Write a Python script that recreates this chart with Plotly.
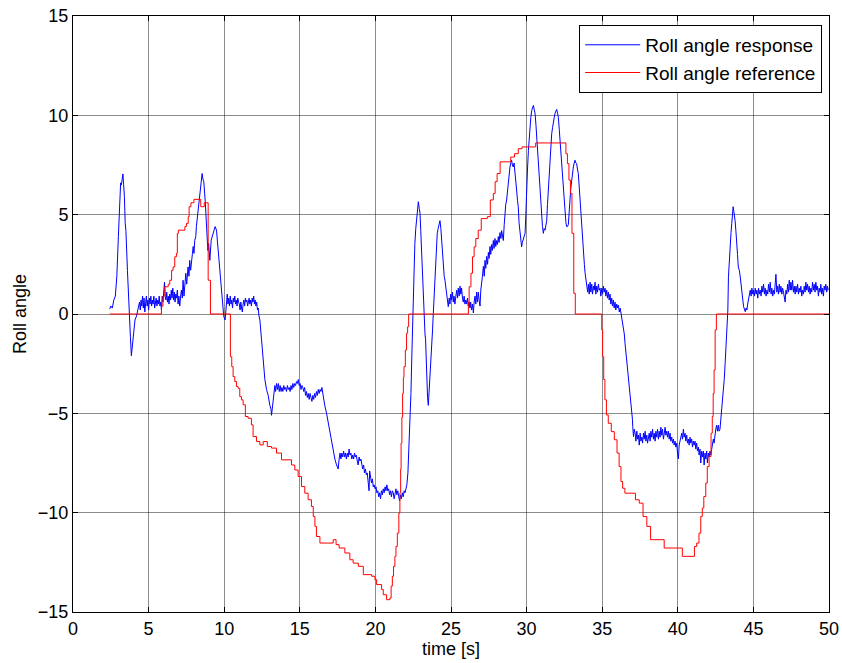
import plotly.graph_objects as go

# ---------------- data ----------------
# Roll angle response (blue): (time [s], angle)
response_points = [
    (2.43, 0.25), (2.5, 0.4), (2.6, 0.3), (2.7, 0.7), (2.8, 0.9), (2.9, 1.9), (3.0, 3.9), (3.1, 5.8),
    (3.15, 6.6), (3.2, 6.5), (3.25, 7.0), (3.3, 7.05), (3.35, 6.5), (3.4, 5.9), (3.45, 4.6), (3.5, 4.2),
    (3.6, 2.2), (3.7, 0.1), (3.75, -0.8), (3.8, -1.2), (3.86, -2.1), (3.92, -1.6), (3.97, -1.4),
    (4.03, -0.6), (4.1, -0.3), (4.2, -0.1),
    (4.3, 0.3), (4.4, 0.6), (4.45, 0.2), (4.5, 0.7), (4.55, 0.4), (4.6, 0.9), (4.65, 0.3), (4.7, 0.8),
    (4.75, 0.1), (4.8, 0.6), (4.85, 0.9), (4.9, 0.4), (4.95, 0.7), (5.0, 0.2), (5.05, 0.8), (5.1, 0.5),
    (5.15, 0.9), (5.2, 0.4), (5.25, 0.7), (5.3, 0.5), (5.35, 0.9), (5.4, 0.3), (5.45, 0.6), (5.5, 0.8),
    (5.55, 0.4), (5.6, 0.7), (5.65, 0.5), (5.7, 0.9), (5.75, 0.4), (5.8, 0.6), (5.85, 0.2), (5.9, 0.9),
    (5.95, 0.6), (6.0, 1.0), (6.05, 1.6), (6.1, 0.9), (6.15, 0.7), (6.2, 1.1), (6.25, 0.6), (6.3, 0.9),
    (6.35, 0.5), (6.4, 1.0), (6.45, 0.7), (6.5, 1.2), (6.55, 0.8), (6.6, 1.3), (6.65, 0.7), (6.7, 1.1),
    (6.75, 0.6), (6.8, 1.0), (6.85, 0.8), (6.9, 1.2), (6.95, 0.5), (7.0, 0.9), (7.06, 0.4),
    (7.12, 0.9), (7.17, 1.2), (7.23, 0.8), (7.28, 1.7), (7.34, 0.9), (7.4, 1.6), (7.46, 2.05),
    (7.52, 1.5), (7.61, 2.37), (7.67, 1.9), (7.72, 2.7), (7.78, 2.2), (7.84, 2.9), (7.9, 3.05),
    (7.95, 3.4), (8.0, 3.05), (8.05, 3.7), (8.12, 3.9), (8.16, 4.4), (8.25, 5.07), (8.34, 5.74),
    (8.42, 6.07), (8.5, 6.9), (8.54, 7.07), (8.59, 6.8), (8.65, 6.66), (8.74, 5.74), (8.83, 4.06),
    (8.92, 3.2), (8.97, 3.55), (9.05, 2.7), (9.14, 3.72), (9.22, 3.9), (9.31, 4.22), (9.4, 4.4),
    (9.49, 4.22), (9.58, 3.38), (9.66, 2.7), (9.75, 2.05), (9.82, 1.2), (9.9, 0.7), (9.97, -0.13),
    (10.06, -0.3),
    (10.15, 0.6), (10.2, 1.0), (10.25, 0.5), (10.3, 0.8), (10.35, 0.4), (10.4, 0.9), (10.45, 0.5),
    (10.5, 0.7), (10.55, 0.3), (10.6, 0.8), (10.65, 0.6), (10.7, 0.9), (10.75, 0.5), (10.8, 0.7),
    (10.85, 0.4), (10.9, 0.8), (10.95, 0.6), (11.0, 0.5), (11.05, 0.2), (11.1, 0.6), (11.15, 0.3),
    (11.2, 0.1), (11.25, 0.5), (11.3, 0.7), (11.35, 0.4), (11.4, 0.8), (11.45, 0.6), (11.5, 0.7),
    (11.55, 0.4), (11.6, 0.6), (11.65, 0.8), (11.7, 0.5), (11.75, 0.7), (11.8, 0.4), (11.85, 0.8),
    (11.9, 0.6), (11.95, 0.9), (12.0, 0.5), (12.05, 0.7), (12.1, 0.4), (12.15, 0.6), (12.2, 0.2),
    (12.25, 0.3), (12.3, -0.1), (12.36, -0.3),
    (12.47, -1.3), (12.58, -2.5), (12.69, -3.3), (12.8, -3.8), (12.91, -4.1), (13.02, -4.6),
    (13.1, -4.8), (13.13, -5.1), (13.2, -4.6),
    (13.24, -4.4), (13.3, -3.9), (13.35, -3.6), (13.4, -3.9), (13.46, -3.5), (13.52, -3.8),
    (13.58, -3.5), (13.64, -3.9), (13.7, -3.6), (13.76, -3.9), (13.82, -3.7), (13.88, -3.9),
    (13.94, -3.6), (14.0, -3.8), (14.06, -3.7), (14.12, -3.9), (14.18, -3.6), (14.24, -3.8),
    (14.3, -3.7), (14.36, -3.9), (14.42, -3.6), (14.48, -3.8), (14.54, -3.5), (14.6, -3.7),
    (14.66, -3.5), (14.72, -3.6), (14.78, -3.4), (14.84, -3.5), (14.9, -3.3), (14.96, -3.6),
    (15.02, -3.5), (15.08, -3.8), (15.14, -3.6), (15.2, -3.7), (15.26, -3.9), (15.32, -3.7),
    (15.38, -4.1), (15.44, -3.9), (15.5, -4.2), (15.56, -4.0), (15.62, -4.3), (15.68, -4.0),
    (15.74, -4.2), (15.8, -4.4), (15.86, -4.1), (15.92, -4.3), (15.98, -4.0), (16.04, -4.2),
    (16.1, -3.9), (16.16, -4.1), (16.22, -3.8), (16.28, -4.0), (16.34, -3.8), (16.4, -3.9),
    (16.46, -3.7), (16.52, -4.0), (16.58, -4.3),
    (16.65, -4.6), (16.77, -5.0), (16.88, -5.5), (16.99, -5.8), (17.1, -6.3), (17.21, -6.9),
    (17.32, -7.3), (17.43, -7.6), (17.54, -7.8),
    (17.6, -7.3), (17.66, -7.0), (17.72, -7.3), (17.78, -7.0), (17.84, -7.2), (17.9, -6.9),
    (17.96, -7.2), (18.02, -7.0), (18.08, -7.3), (18.14, -7.0), (18.2, -7.2), (18.26, -6.8),
    (18.32, -7.1), (18.38, -7.0), (18.44, -7.3), (18.5, -7.1), (18.56, -7.3), (18.62, -7.0),
    (18.68, -7.2), (18.74, -7.1), (18.8, -7.4), (18.86, -7.6), (18.92, -7.2), (18.98, -7.4),
    (19.04, -7.3), (19.1, -7.6), (19.16, -7.8), (19.22, -7.6), (19.28, -8.0), (19.34, -7.8),
    (19.4, -8.1), (19.46, -8.0), (19.52, -8.4), (19.58, -8.9), (19.62, -7.9), (19.68, -8.2),
    (19.74, -8.5), (19.8, -8.3), (19.86, -8.7), (19.92, -8.6), (19.98, -8.8), (20.04, -8.7),
    (20.1, -9.0), (20.16, -8.9), (20.22, -9.2), (20.28, -9.0), (20.34, -9.3), (20.4, -8.9),
    (20.46, -9.1), (20.52, -8.8), (20.58, -9.0), (20.64, -8.7), (20.7, -8.9), (20.76, -8.6),
    (20.82, -8.9), (20.88, -8.8), (20.94, -9.1), (21.0, -8.9), (21.06, -9.2), (21.12, -8.9),
    (21.18, -9.0), (21.24, -9.3), (21.3, -9.0), (21.36, -8.8), (21.42, -9.1), (21.48, -8.9),
    (21.54, -9.2), (21.6, -9.4), (21.66, -9.1), (21.72, -9.3), (21.78, -9.0), (21.84, -9.2),
    (21.9, -8.9), (21.96, -9.0), (22.02, -8.8), (22.08, -8.6),
    (22.15, -8.0), (22.22, -6.8), (22.28, -6.0), (22.35, -4.0), (22.42, -1.8), (22.5, 0.7),
    (22.55, 2.0), (22.61, 3.55), (22.67, 4.3), (22.73, 4.9), (22.8, 5.4), (22.84, 5.65),
    (22.9, 5.3), (22.95, 5.07), (23.0, 4.2), (23.06, 3.05), (23.12, 1.8), (23.17, 0.7),
    (23.22, -0.5), (23.28, -1.0), (23.32, -1.3), (23.39, -3.65), (23.45, -4.2), (23.5, -4.6),
    (23.55, -4.0), (23.61, -3.3), (23.66, -2.6), (23.72, -1.8), (23.78, -0.8), (23.83, 0.03),
    (23.87, 0.7), (23.93, 1.8), (24.0, 3.05), (24.09, 4.06), (24.15, 4.3), (24.22, 4.5),
    (24.27, 4.7), (24.33, 4.3), (24.38, 3.7), (24.44, 2.8), (24.49, 2.05), (24.55, 1.9),
    (24.6, 1.7), (24.66, 1.3), (24.71, 1.04), (24.77, 0.6), (24.82, 0.37),
    (24.88, 0.8), (24.93, 0.5), (24.98, 1.0), (25.04, 0.7), (25.1, 1.1), (25.15, 0.6), (25.2, 0.9),
    (25.26, 0.5), (25.32, 0.9), (25.38, 1.2), (25.43, 0.8), (25.48, 1.3), (25.54, 0.9), (25.6, 1.4),
    (25.65, 1.0), (25.7, 1.3), (25.76, 0.8), (25.81, 0.6), (25.87, 0.9), (25.92, 0.5), (25.98, 0.7),
    (26.03, 0.5), (26.09, 0.8), (26.14, 0.4), (26.2, 0.6), (26.25, 0.3), (26.3, 0.6), (26.36, 0.2),
    (26.42, 0.5), (26.48, 0.05), (26.53, 0.6), (26.59, 0.9), (26.64, 0.5), (26.7, 1.1), (26.75, 0.6),
    (26.81, 1.1), (26.86, 0.7), (26.92, 0.4), (26.97, 1.2), (27.03, 1.5),
    (27.08, 1.9), (27.14, 2.4), (27.2, 1.9), (27.25, 2.7), (27.3, 2.3), (27.36, 2.9), (27.42, 2.5),
    (27.47, 3.1), (27.52, 2.8), (27.58, 3.4), (27.63, 3.0), (27.69, 3.5), (27.74, 3.2), (27.8, 3.7),
    (27.85, 3.3), (27.91, 3.8), (27.96, 3.4), (28.02, 3.7), (28.07, 3.5), (28.13, 3.9), (28.18, 3.6),
    (28.24, 4.1), (28.3, 3.8), (28.35, 4.2), (28.4, 3.8), (28.46, 3.7),
    (28.52, 4.5), (28.57, 5.07), (28.62, 5.5), (28.68, 5.74), (28.74, 6.3), (28.79, 6.74),
    (28.85, 7.2), (28.9, 7.4), (28.95, 7.6), (29.01, 7.74), (29.06, 7.5), (29.12, 7.4),
    (29.17, 7.6), (29.23, 7.2), (29.28, 6.8), (29.34, 6.24), (29.4, 5.7), (29.45, 5.4),
    (29.5, 4.6), (29.56, 4.06), (29.62, 3.6), (29.67, 3.38), (29.72, 3.6), (29.78, 3.72),
    (29.84, 3.9), (29.9, 4.06), (29.95, 5.0),
    (30.0, 6.4), (30.06, 7.3), (30.12, 8.24), (30.17, 8.9), (30.23, 9.4), (30.28, 9.9),
    (30.34, 10.25), (30.4, 10.4), (30.45, 10.5), (30.5, 10.3), (30.56, 10.1), (30.62, 9.5),
    (30.67, 8.9), (30.72, 8.3), (30.78, 7.74), (30.84, 6.9), (30.89, 6.07), (30.95, 5.3),
    (31.0, 4.7), (31.05, 4.4), (31.11, 4.06), (31.16, 4.3), (31.22, 4.22), (31.28, 4.5),
    (31.33, 4.7), (31.38, 5.5), (31.44, 6.4), (31.5, 7.1), (31.55, 7.74), (31.6, 8.4),
    (31.66, 9.07), (31.72, 9.4), (31.77, 9.75), (31.83, 9.9), (31.88, 10.1), (31.94, 10.2),
    (31.99, 10.3), (32.05, 10.1), (32.1, 9.9), (32.16, 9.3), (32.21, 8.7), (32.26, 8.2),
    (32.32, 7.74), (32.38, 7.0), (32.43, 6.4), (32.48, 5.7), (32.54, 5.07), (32.6, 4.6),
    (32.65, 4.4), (32.7, 4.4), (32.76, 4.5), (32.82, 5.0), (32.87, 5.74), (32.92, 6.3),
    (32.98, 6.74), (33.04, 7.1), (33.09, 7.4), (33.15, 7.6), (33.2, 7.74), (33.26, 7.6),
    (33.31, 7.57), (33.36, 7.3), (33.42, 7.07), (33.48, 6.4), (33.53, 5.74), (33.59, 5.1),
    (33.65, 4.4), (33.7, 3.7), (33.76, 3.05), (33.82, 2.5), (33.87, 2.05), (33.93, 1.7),
    (33.98, 1.37),
    (34.04, 1.1), (34.09, 1.5), (34.14, 1.0), (34.2, 1.6), (34.25, 1.1), (34.31, 1.5), (34.36, 1.0),
    (34.42, 1.4), (34.47, 1.2), (34.53, 1.6), (34.58, 1.0), (34.64, 1.4), (34.69, 1.1), (34.75, 1.5),
    (34.8, 1.2), (34.86, 1.3), (34.91, 0.9), (34.97, 1.3), (35.02, 1.0), (35.08, 1.4), (35.13, 1.1),
    (35.19, 1.3), (35.24, 0.9), (35.3, 1.2), (35.35, 0.8), (35.41, 1.1), (35.46, 0.7), (35.52, 1.0),
    (35.57, 0.5), (35.63, 0.8), (35.68, 0.4), (35.74, 0.7), (35.79, 0.3), (35.85, 0.6), (35.9, 0.2),
    (35.96, 0.5), (36.01, 0.3), (36.07, 0.45), (36.13, 0.1), (36.19, 0.3), (36.25, 0.0), (36.3, -0.1),
    (36.35, -0.3), (36.4, -0.6), (36.46, -1.0), (36.51, -1.47), (36.57, -1.9), (36.62, -2.3),
    (36.68, -2.8), (36.74, -3.3), (36.8, -3.7), (36.85, -4.16), (36.9, -4.5), (36.96, -4.83),
    (37.0, -5.3), (37.02, -5.67), (37.07, -6.17),
    (37.12, -5.8), (37.18, -6.0), (37.23, -6.4), (37.29, -5.9), (37.34, -6.3), (37.4, -6.1),
    (37.45, -6.6), (37.51, -6.0), (37.56, -6.4), (37.62, -6.2), (37.67, -6.5), (37.73, -6.0),
    (37.78, -6.3), (37.84, -5.9), (37.89, -6.4), (37.95, -6.1), (38.0, -6.5), (38.06, -6.2),
    (38.11, -6.0), (38.17, -6.4), (38.22, -5.9), (38.28, -6.2), (38.33, -5.8), (38.39, -6.3),
    (38.44, -6.0), (38.5, -6.4), (38.55, -5.9), (38.61, -6.2), (38.66, -5.8), (38.72, -6.3),
    (38.77, -5.9), (38.83, -6.2), (38.88, -5.7), (38.94, -6.1), (38.99, -5.8), (39.05, -6.3),
    (39.1, -5.9), (39.16, -5.7), (39.21, -6.1), (39.27, -5.9), (39.32, -6.2), (39.38, -5.9),
    (39.43, -6.3), (39.49, -6.0), (39.54, -6.4), (39.6, -6.2), (39.65, -6.5), (39.71, -6.3),
    (39.76, -6.6), (39.82, -6.4), (39.87, -6.7), (39.93, -6.5), (39.98, -7.0), (40.04, -7.3),
    (40.09, -6.6), (40.15, -6.4), (40.2, -6.2), (40.26, -6.0), (40.31, -6.3), (40.37, -5.8),
    (40.42, -6.2), (40.48, -6.0), (40.53, -6.4), (40.59, -6.1), (40.64, -6.5), (40.7, -6.3),
    (40.75, -6.6), (40.81, -6.2), (40.86, -6.5), (40.92, -6.3), (40.97, -6.7), (41.03, -6.4),
    (41.08, -6.6), (41.14, -6.4), (41.19, -6.8), (41.25, -6.5), (41.3, -6.9), (41.36, -6.7),
    (41.41, -7.1), (41.47, -6.8), (41.52, -7.5), (41.58, -6.9), (41.63, -7.2), (41.69, -6.9),
    (41.74, -7.6), (41.8, -7.0), (41.85, -7.3), (41.91, -6.9), (41.96, -7.5), (42.02, -7.0),
    (42.07, -7.2), (42.13, -6.9), (42.18, -7.1), (42.24, -6.8), (42.29, -6.6), (42.35, -6.3),
    (42.4, -6.5), (42.46, -6.0), (42.51, -5.8), (42.57, -5.6), (42.62, -5.9), (42.68, -5.6),
    (42.73, -5.9), (42.79, -5.8), (42.84, -5.4), (42.9, -4.9),
    (42.95, -4.4), (42.98, -4.0), (43.02, -3.6), (43.07, -3.3), (43.13, -2.5), (43.18, -1.7),
    (43.24, -0.97), (43.28, -0.3), (43.31, 0.2), (43.35, 1.87), (43.4, 2.8), (43.46, 3.55),
    (43.52, 4.1), (43.57, 4.56), (43.62, 5.0), (43.66, 5.4), (43.7, 5.2), (43.74, 5.0),
    (43.79, 4.7), (43.84, 4.2), (43.9, 3.72), (43.95, 3.0), (44.0, 2.37), (44.07, 2.2),
    (44.13, 1.87), (44.18, 1.4), (44.24, 1.04), (44.3, 0.7), (44.35, 0.37), (44.4, 0.2),
    (44.46, 0.12), (44.52, 0.3), (44.57, 0.2), (44.62, 0.5), (44.68, 0.7), (44.74, 0.9),
    (44.79, 1.2),
    (44.85, 0.9), (44.9, 1.3), (44.96, 1.0), (45.01, 1.2), (45.07, 0.9), (45.12, 1.3), (45.18, 1.0),
    (45.23, 1.2), (45.29, 0.8), (45.34, 1.3), (45.4, 1.0), (45.45, 1.2), (45.51, 0.9), (45.56, 1.4),
    (45.62, 1.1), (45.67, 1.5), (45.73, 1.0), (45.78, 1.3), (45.84, 0.9), (45.89, 1.2), (45.95, 1.0),
    (46.0, 1.5), (46.06, 1.1), (46.11, 1.6), (46.17, 1.0), (46.22, 1.3), (46.28, 0.9), (46.33, 1.2),
    (46.39, 1.0), (46.44, 1.4), (46.49, 2.0), (46.55, 1.1), (46.6, 1.4), (46.66, 1.0), (46.71, 1.5),
    (46.77, 1.1), (46.82, 1.4), (46.88, 1.0), (46.93, 1.3), (46.99, 1.1), (47.04, 0.9), (47.1, 0.6),
    (47.15, 1.2), (47.21, 1.0), (47.26, 1.5), (47.32, 1.1), (47.37, 1.7), (47.43, 1.2), (47.48, 1.6),
    (47.54, 1.2), (47.59, 1.7), (47.65, 1.1), (47.7, 1.4), (47.76, 1.0), (47.81, 1.4), (47.87, 1.1),
    (47.92, 1.5), (47.98, 1.0), (48.03, 1.3), (48.09, 1.1), (48.14, 1.4), (48.2, 0.9), (48.25, 1.2),
    (48.31, 1.0), (48.36, 1.4), (48.42, 1.1), (48.47, 1.6), (48.53, 1.2), (48.58, 1.5), (48.64, 1.1),
    (48.69, 1.4), (48.75, 1.0), (48.8, 1.3), (48.86, 1.1), (48.91, 1.6), (48.97, 1.2), (49.02, 1.5),
    (49.08, 1.1), (49.13, 1.6), (49.19, 1.2), (49.24, 1.4), (49.3, 0.9), (49.35, 1.3), (49.41, 1.1),
    (49.46, 1.5), (49.52, 1.0), (49.57, 1.3), (49.63, 0.9), (49.68, 1.4), (49.74, 1.2), (49.79, 1.5),
    (49.85, 1.1), (49.9, 1.4), (49.95, 1.2),
]

# Roll angle reference (red, staircase): (time [s], angle held until next time)
reference_points = [
    (2.43, 0), (5.85, 0.4), (5.95, 0.9), (6.07, 1.37), (6.3, 1.5), (6.4, 1.7), (6.52, 2.2),
    (6.62, 2.37), (6.73, 2.88), (6.84, 3.05), (6.9, 4.06), (6.97, 4.22), (7.4, 4.4), (7.5, 4.56),
    (7.62, 4.9), (7.68, 5.4), (7.8, 5.6), (8.0, 5.77), (8.45, 5.4), (8.68, 5.6), (8.94, 1.7),
    (9.09, 0), (10.41, -2.15), (10.5, -2.65), (10.59, -3.15), (10.7, -3.4), (10.81, -3.65),
    (10.92, -3.74), (11.03, -4.16), (11.14, -4.32), (11.25, -4.57), (11.4, -5.16), (11.58, -5.25),
    (11.8, -5.58), (11.91, -6.17), (12.14, -6.42), (12.36, -6.59), (12.58, -6.42), (12.85, -6.67),
    (13.13, -6.75), (13.46, -7.0), (13.79, -7.34), (14.45, -7.6), (14.67, -7.85), (14.89, -8.18),
    (15.11, -8.68), (15.33, -9.02), (15.55, -9.35), (15.77, -9.69), (15.89, -10.19), (16.0, -10.69),
    (16.1, -11.2), (16.33, -11.53), (17.21, -11.36), (17.4, -11.61), (17.6, -11.78), (17.98, -12.03),
    (18.31, -12.37), (18.53, -12.54), (18.87, -12.7), (19.2, -13.12), (19.75, -13.2), (19.97, -13.37),
    (20.08, -13.62), (20.41, -13.87), (20.52, -14.13), (20.74, -14.38), (20.96, -14.3), (21.04, -13.7),
    (21.12, -13.2), (21.2, -12.7), (21.29, -12.2), (21.36, -11.7), (21.45, -11.03), (21.55, -10.02),
    (21.62, -9.0), (21.67, -7.8), (21.7, -6.5), (21.75, -5.2), (21.8, -4.0), (21.85, -3.2),
    (21.89, -2.65), (21.98, -1.81), (22.06, -0.97), (22.13, -0.64), (22.2, 0), (26.15, 0.6),
    (26.2, 1.37), (26.32, 2.05), (26.42, 2.88), (26.53, 3.38), (26.64, 3.8), (26.8, 4.22),
    (27.0, 4.8), (27.4, 4.9), (27.6, 5.74), (27.8, 6.07), (27.92, 6.66), (28.05, 7.07),
    (28.25, 7.66), (28.95, 7.9), (29.2, 8.07), (29.45, 8.32), (29.7, 8.41), (30.6, 8.61),
    (32.6, 8.07), (32.7, 7.57), (32.8, 6.74), (32.9, 6.07), (33.0, 4.06), (33.12, 1.04),
    (33.22, 0), (34.97, -0.8), (35.03, -2.15), (35.1, -3.3), (35.18, -4.32), (35.28, -5.08),
    (35.4, -5.5), (35.6, -5.92), (35.8, -6.33), (35.98, -7.0), (36.12, -7.68), (36.24, -8.43),
    (36.35, -8.77), (36.5, -9.02), (37.2, -9.35), (37.45, -9.52), (37.7, -10.19), (37.95, -10.69),
    (38.2, -11.36), (39.1, -11.78), (40.3, -12.2), (41.1, -11.7), (41.25, -11.53), (41.4, -11.03),
    (41.52, -10.19), (41.62, -9.77), (41.72, -9.19), (41.85, -8.51), (41.95, -7.68), (42.07, -7.17),
    (42.2, -6.0), (42.28, -5.16), (42.34, -4.0), (42.4, -2.82), (42.47, -0.8), (42.55, 0), (50.0, 0),
]

x_ticks = [0, 5, 10, 15, 20, 25, 30, 35, 40, 45, 50]
y_ticks = [-15, -10, -5, 0, 5, 10, 15]
series_names = ["Roll angle response", "Roll angle reference"]
x_title = "time [s]"
y_title = "Roll angle"

resp_t = [p[0] for p in response_points]
resp_y = [p[1] for p in response_points]
ref_t = [p[0] for p in reference_points]
ref_y = [p[1] for p in reference_points]

FONT = "Arial, 'Liberation Sans', Helvetica, sans-serif"

fig = go.Figure()
fig.add_trace(go.Scatter(x=resp_t, y=resp_y, mode="lines", name=series_names[0],
                         line=dict(color="#0000FF", width=1)))
fig.add_trace(go.Scatter(x=ref_t, y=ref_y, mode="lines", name=series_names[1],
                         line=dict(color="#FF0000", width=1, shape="hv")))

axis_common = dict(
    showline=True, linecolor="black", linewidth=1, mirror="ticks",
    ticks="inside", ticklen=5, tickcolor="black", tickwidth=1,
    showgrid=True, gridcolor="rgba(0,0,0,0.45)", gridwidth=1,
    zeroline=False, automargin=False,
    tickfont=dict(family=FONT, size=18, color="black"),
)

fig.update_xaxes(range=[0, 50], tickvals=x_ticks, **axis_common,
                 title=dict(text=x_title, font=dict(family=FONT, size=18, color="black"), standoff=0))
fig.update_yaxes(range=[-15, 15], tickvals=y_ticks, **axis_common,
                 title=dict(text=y_title, font=dict(family=FONT, size=18, color="black"), standoff=6))

fig.update_layout(
    width=842, height=663,
    margin=dict(l=73, r=13, t=16, b=51, autoexpand=False),
    paper_bgcolor="white", plot_bgcolor="white",
    font=dict(family=FONT, size=18, color="black"),
    showlegend=True,
    legend=dict(x=0.991, y=0.985, xanchor="right", yanchor="top",
                bgcolor="white", bordercolor="black", borderwidth=1,
                font=dict(family=FONT, size=19, color="black"),
                tracegroupgap=0, itemwidth=55),
)

# remove the page's default 8px body margin so the figure sits at the window origin
fig.write_html(
    "out.html",
    config={"displayModeBar": False},
    post_script="document.body.style.margin='0';document.body.style.overflow='hidden';",
)
